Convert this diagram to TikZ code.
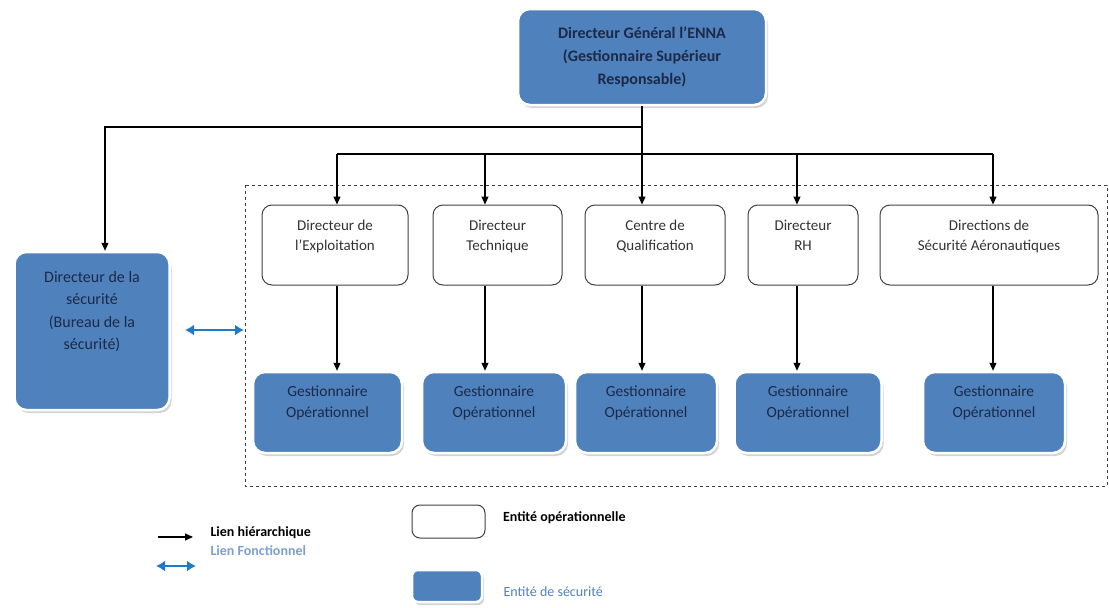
\documentclass[tikz,border=0pt]{standalone}
\usepackage{fontspec}
\setmainfont{Carlito}
\usetikzlibrary{arrows.meta,positioning,shadows}
\definecolor{ennablue}{HTML}{4F81BD}
\definecolor{ennanavy}{HTML}{1C2A47}
\definecolor{ennalink}{HTML}{1F7BC9}
\definecolor{ennalight}{HTML}{7A9FD0}

\tikzset{
  opbox/.style={rectangle, rounded corners=10pt, draw=black!75, line width=1pt, fill=white, minimum height=80pt},
  secbox/.style={rectangle, rounded corners=12pt, fill=ennablue, draw=white, line width=2.5pt,
    drop shadow={shadow xshift=2pt, shadow yshift=-3pt, opacity=0.35}},
  optext/.style={anchor=north, align=center, font=\fontsize{15}{20}\selectfont, text=black!80, yshift=-12pt},
  sectext/.style={anchor=north, align=center, font=\fontsize{15.5}{21}\selectfont, text=ennanavy, yshift=-11pt},
  hier/.style={-{Triangle[length=8pt,width=7pt]}, line width=1.1pt},
  fonc/.style={{Latex[length=9pt,width=11pt]}-{Latex[length=9pt,width=11pt]}, ennalink, line width=2.8pt},
  legtext/.style={anchor=west, font=\fontsize{14}{16}\selectfont\bfseries}
}

\begin{document}
\begin{tikzpicture}[x=1pt, y=-1pt]
  \useasboundingbox (0,0) rectangle (1109,608);

  % dashed frame round the operational entities
  \draw[dashed, line width=0.9pt, black!75] (245,185) rectangle (1107,486);

  % top management
  \node[secbox, minimum width=248pt, minimum height=96pt, align=center, text=ennanavy,
        font=\fontsize{16}{23}\selectfont\bfseries] (dg) at (642,57)
        {Directeur Général l’ENNA\\(Gestionnaire Supérieur\\Responsable)};
  \node[secbox, minimum width=155pt, minimum height=158pt,
        label={[sectext, yshift=-6pt, font=\fontsize{16}{22.5}\selectfont]north:{Directeur de la\\sécurité\\(Bureau de la\\sécurité)}}]
        (secu) at (92,331) {};

  % operational entities
  \node[opbox, minimum width=146pt, label={[optext]north:{Directeur de\\l’Exploitation}}] (expl) at (335,245) {};
  \node[opbox, minimum width=129pt, label={[optext]north:{Directeur\\Technique}}] (tech) at (497.5,245) {};
  \node[opbox, minimum width=140pt, label={[optext]north:{Centre de\\Qualification}}] (qual) at (655,245) {};
  \node[opbox, minimum width=110pt, label={[optext]north:{Directeur\\RH}}] (rh) at (803,245) {};
  \node[opbox, minimum width=218pt, label={[optext]north:{Directions de\\Sécurité Aéronautiques}}] (dsa) at (989,245) {};

  % safety managers
  \node[secbox, minimum width=149pt, minimum height=81pt, label={[sectext]north:{Gestionnaire\\Opérationnel}}] (go1) at (327.5,412.5) {};
  \node[secbox, minimum width=144pt, minimum height=81pt, label={[sectext]north:{Gestionnaire\\Opérationnel}}] (go2) at (494,412.5) {};
  \node[secbox, minimum width=142pt, minimum height=81pt, label={[sectext]north:{Gestionnaire\\Opérationnel}}] (go3) at (646,412.5) {};
  \node[secbox, minimum width=147pt, minimum height=81pt, label={[sectext]north:{Gestionnaire\\Opérationnel}}] (go4) at (808,412.5) {};
  \node[secbox, minimum width=142pt, minimum height=81pt, label={[sectext]north:{Gestionnaire\\Opérationnel}}] (go5) at (994,412.5) {};

  % hierarchical links
  \coordinate (split) at (642,127);
  \coordinate (bus) at (642,154);
  \coordinate (toleft) at (105,127);
  \draw[line width=1.1pt] (dg.south) -- (bus);
  \draw[hier] (split) -- (toleft) -- (toleft |- secu.north);
  \draw[line width=1.1pt] (337,154) -- (993,154);
  \foreach \xx/\opn/\gest in {337/expl/go1, 485/tech/go2, 642/qual/go3, 797/rh/go4, 993/dsa/go5}{
    \coordinate (drop) at (\xx,154);
    \draw[hier] (drop) -- (drop |- \opn.north);
    \draw[hier] (drop |- \opn.south) -- (drop |- \gest.north);
  }

  % functional link
  \draw[fonc] (185,330) -- (244,330);

  % legend
  \coordinate (lega) at (158,537);
  \draw[hier] (lega) -- ++(35,0);
  \node[legtext] (lhier) at (207,533) {Lien hiérarchique};
  \node[legtext, text=ennalight, anchor=west] (lfonc) at (207,551) {Lien Fonctionnel};
  \coordinate (legb) at (156,566);
  \draw[fonc, line width=2.6pt] (legb) -- ++(40,0);
  \node[opbox, rounded corners=8pt, minimum width=73pt, minimum height=33pt] (legop) at (448.5,521.5) {};
  \node[legtext, right=14pt of legop.east, yshift=4pt] (lop) {Entité opérationnelle};
  \node[secbox, rounded corners=6pt, minimum width=70pt, minimum height=32pt] (legsec) at (447,586) {};
  \node[legtext, font=\fontsize{14}{16}\selectfont, text=ennablue, anchor=west] (lsec) at (500,592) {Entité de sécurité};
\end{tikzpicture}
\end{document}
